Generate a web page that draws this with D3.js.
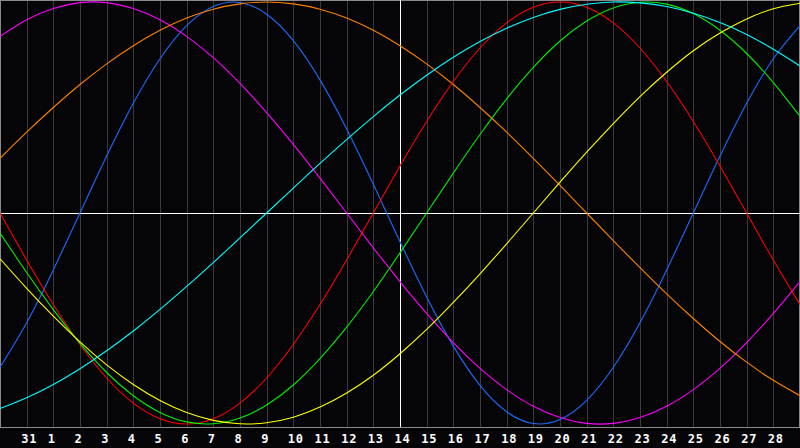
<!DOCTYPE html>
<html>
<head>
<meta charset="utf-8">
<script src="https://cdn.jsdelivr.net/npm/d3@7"></script>
<style>
  html, body { margin: 0; padding: 0; background: #050507; }
  svg { display: block; }
</style>
</head>
<body>
<div id="chart"></div>
<script>
// Day labels for each daily gridline (index 0 = left edge, 30 = right edge)
const days = ["30","31","1","2","3","4","5","6","7","8","9","10","11","12","13","14",
              "15","16","17","18","19","20","21","22","23","24","25","26","27","28","29"];

// Daily values (-1..1), one per day
const physical23 = [-0.731,-0.520,-0.270,0.000,0.270,0.520,0.731,0.888,0.979,0.998,0.942,0.817,0.631,0.398,0.136,-0.136,
                    -0.398,-0.631,-0.817,-0.942,-0.998,-0.979,-0.888,-0.731,-0.520,-0.270,0.000,0.270,0.520,0.731,0.888];
const emotional28 = [0.000,-0.223,-0.434,-0.623,-0.782,-0.901,-0.975,-1.000,-0.975,-0.901,-0.782,-0.623,-0.434,-0.223,0.000,0.223,
                     0.434,0.623,0.782,0.901,0.975,1.000,0.975,0.901,0.782,0.623,0.434,0.223,0.000,-0.223,-0.434];
const intellectual33 = [-0.095,-0.282,-0.458,-0.618,-0.756,-0.866,-0.945,-0.990,-0.999,-0.972,-0.910,-0.815,-0.690,-0.541,-0.372,-0.189,
                        0.000,0.189,0.372,0.541,0.690,0.815,0.910,0.972,0.999,0.990,0.945,0.866,0.756,0.618,0.458];
const intuitive38 = [0.837,0.916,0.969,0.997,0.997,0.969,0.916,0.837,0.736,0.614,0.476,0.325,0.165,0.000,-0.165,-0.325,
                     -0.476,-0.614,-0.736,-0.837,-0.916,-0.969,-0.997,-0.997,-0.969,-0.916,-0.837,-0.736,-0.614,-0.476,-0.325];
const aesthetic43 = [-0.217,-0.357,-0.489,-0.611,-0.720,-0.813,-0.889,-0.946,-0.983,-0.999,-0.994,-0.968,-0.920,-0.853,-0.769,-0.667,
                     -0.552,-0.424,-0.288,-0.146,0.000,0.146,0.288,0.424,0.552,0.667,0.769,0.853,0.920,0.968,0.994];
const awareness48 = [0.259,0.383,0.500,0.609,0.707,0.793,0.866,0.924,0.966,0.991,1.000,0.991,0.966,0.924,0.866,0.793,
                     0.707,0.609,0.500,0.383,0.259,0.131,0.000,-0.131,-0.259,-0.383,-0.500,-0.609,-0.707,-0.793,-0.866];
const spiritual53 = [-0.927,-0.876,-0.813,-0.738,-0.653,-0.559,-0.457,-0.348,-0.235,-0.118,0.000,0.118,0.235,0.348,0.457,0.559,
                     0.653,0.738,0.813,0.876,0.927,0.965,0.989,1.000,0.996,0.979,0.947,0.903,0.846,0.776,0.697];

const series = [
  { name: "physical",     values: physical23,     color: "#1a6cff" },
  { name: "intuitive",    values: intuitive38,    color: "#ff00ff" },
  { name: "awareness",    values: awareness48,    color: "#ff8000" },
  { name: "emotional",    values: emotional28,    color: "#ff0000" },
  { name: "intellectual", values: intellectual33, color: "#00ee00" },
  { name: "aesthetic",    values: aesthetic43,    color: "#ffff00" },
  { name: "spiritual",    values: spiritual53,    color: "#00ffff" }
];

const W = 800, H = 448;
const plotBottom = 427;
const centerIndex = 15;

const svg = d3.select("#chart").append("svg")
  .attr("width", W).attr("height", H);

svg.append("rect").attr("width", W).attr("height", H).attr("fill", "#050507");

const x = d3.scaleLinear().domain([0, days.length - 1]).range([0, W]);
const y = d3.scaleLinear().domain([-1, 1]).range([424, 2]);

// vertical day gridlines
const gridIdx = d3.range(1, days.length - 1);
svg.append("g").selectAll("line")
  .data(gridIdx.filter(i => i !== centerIndex))
  .join("line")
  .attr("x1", i => Math.round(x(i)) + 0.5)
  .attr("x2", i => Math.round(x(i)) + 0.5)
  .attr("y1", 0).attr("y2", plotBottom)
  .attr("stroke", "#3a3a3e").attr("stroke-width", 1)
  .attr("shape-rendering", "crispEdges");

// plot frame
svg.append("rect")
  .attr("x", 0.5).attr("y", 0.5)
  .attr("width", W - 1).attr("height", plotBottom)
  .attr("fill", "none").attr("stroke", "#8a8a8a")
  .attr("shape-rendering", "crispEdges");

// centre cross lines (white)
svg.append("line")
  .attr("x1", 0).attr("x2", W)
  .attr("y1", Math.round(y(0)) + 0.5).attr("y2", Math.round(y(0)) + 0.5)
  .attr("stroke", "#ffffff").attr("shape-rendering", "crispEdges");
svg.append("line")
  .attr("x1", Math.round(x(centerIndex)) + 0.5).attr("x2", Math.round(x(centerIndex)) + 0.5)
  .attr("y1", 0).attr("y2", plotBottom)
  .attr("stroke", "#ffffff").attr("shape-rendering", "crispEdges");

// curves
const line = d3.line()
  .x((d, i) => x(i))
  .y(d => y(d))
  .curve(d3.curveNatural);

svg.append("g").selectAll("path")
  .data(series)
  .join("path")
  .attr("d", d => line(d.values))
  .attr("fill", "none")
  .attr("stroke", d => d.color)
  .attr("stroke-width", 1.1);

// bottom day labels
const axis = d3.axisBottom(x)
  .tickValues(gridIdx)
  .tickFormat(i => days[i])
  .tickSize(0)
  .tickPadding(0);

const gAxis = svg.append("g")
  .attr("transform", `translate(0,${plotBottom})`)
  .call(axis);
gAxis.select(".domain").remove();
gAxis.selectAll("text")
  .attr("fill", "#ffffff")
  .attr("text-anchor", "start")
  .attr("dx", -6)
  .attr("y", 16)
  .attr("dy", 0)
  .style("font-family", "'DejaVu Sans Mono', monospace")
  .style("font-weight", "bold")
  .style("font-size", "12px")
  .style("letter-spacing", "0.8px");
</script>
</body>
</html>
